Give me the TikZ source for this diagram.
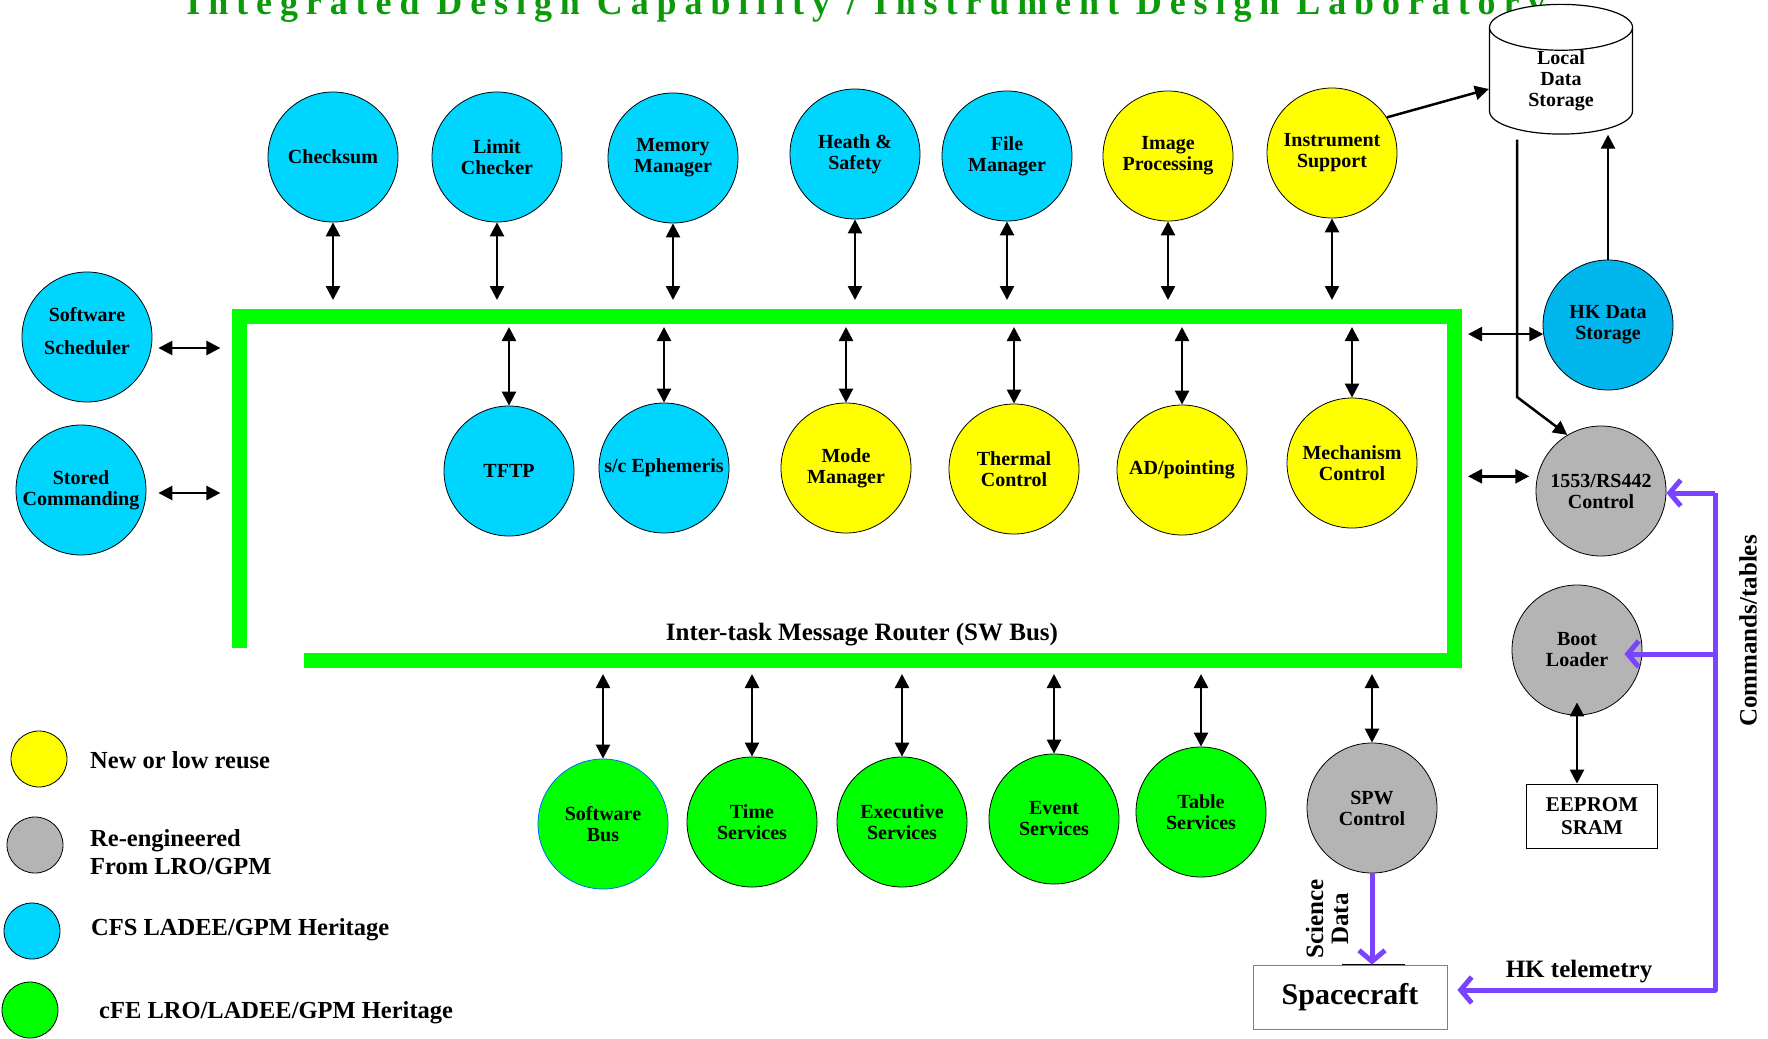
\documentclass[tikz,border=0pt]{standalone}
\usepackage{fontspec}
\setmainfont{Liberation Serif}
\usepackage{xcolor}
\usepackage{graphicx}
\usetikzlibrary{arrows.meta,shapes.geometric}

\definecolor{cfsblue}{HTML}{00D5FF}
\definecolor{hkblue}{HTML}{00B6EC}
\definecolor{newyellow}{HTML}{FFFF00}
\definecolor{cfegreen}{HTML}{00FF00}
\definecolor{regray}{HTML}{B4B4B4}
\definecolor{cmdpurple}{HTML}{7B42FF}
\definecolor{titlegreen}{HTML}{0A9A0A}

\begin{document}
\begin{tikzpicture}[x=1pt, y=-1pt,
    app/.style={draw, circle, minimum size=130pt, inner sep=0pt, align=center, line width=0.8pt, font=\fontsize{20}{21}\selectfont\bfseries},
    cfs/.style={app, fill=cfsblue},
    newapp/.style={app, fill=newyellow},
    cfe/.style={app, fill=cfegreen},
    reeng/.style={app, fill=regray},
    key/.style={draw, circle, minimum size=56pt, inner sep=0pt, line width=0.8pt},
    keytext/.style={anchor=west, align=left, inner sep=0pt, font=\fontsize{24.5}{28}\selectfont\bfseries},
    lbl/.style={inner sep=0pt, align=center, font=\fontsize{25}{25}\selectfont\bfseries},
    biarrow/.style={{Triangle[length=14pt,width=14pt]}-{Triangle[length=14pt,width=14pt]}, line width=2.5pt},
    onearrow/.style={-{Triangle[length=14pt,width=14pt]}, line width=2.5pt},
    cmd/.style={-{Straight Barb[length=11pt,width=26pt]}, line width=5pt, draw=cmdpurple, line join=round},
    bus/.style={draw=cfegreen, line width=15pt, line join=miter},
    box/.style={draw, rectangle, align=center, inner sep=0pt, line width=0.8pt}
  ]
    \useasboundingbox (0,0) rectangle (1768,1038);

    % title, cut at the top edge
    \node[anchor=base, inner sep=0pt, text=titlegreen] (title) at (866,15)
      {\resizebox{1359pt}{!}{\fontsize{26}{26}\selectfont\bfseries\addfontfeature{LetterSpace=22}Integrated Design Capability / Instrument Design Laboratory}};

    % software bus
    \draw[bus] (239,648) -- (239,316) -- (1454,316) -- (1454,660) -- (304,660);
    \node[lbl] (buslbl) at (862,635) {Inter-task Message Router (SW Bus)};
    \coordinate (bustop) at (0,300);
    \coordinate (businner) at (0,327);
    \coordinate (busbot) at (0,674);
    \coordinate (busright) at (1468,0);

    % applications above the bus
    \node[cfs] (chk) at (333,157) {Checksum};
    \node[cfs] (lim) at (497,157) {Limit\\Checker};
    \node[cfs] (mem) at (673,158) {Memory\\Manager};
    \node[cfs] (hs) at (855,154) {Heath \&\\Safety};
    \node[cfs] (fm) at (1007,156) {File\\Manager};
    \node[newapp] (ip) at (1168,156) {Image\\Processing};
    \node[newapp] (ins) at (1332,153) {Instrument\\Support};
    \draw[biarrow] (chk.south) -- (chk.south |- bustop);
    \draw[biarrow] (lim.south) -- (lim.south |- bustop);
    \draw[biarrow] (mem.south) -- (mem.south |- bustop);
    \draw[biarrow] (hs.south) -- (hs.south |- bustop);
    \draw[biarrow] (fm.south) -- (fm.south |- bustop);
    \draw[biarrow] (ip.south) -- (ip.south |- bustop);
    \draw[biarrow] (ins.south) -- (ins.south |- bustop);

    % applications inside the bus
    \node[cfs] (tftp) at (509,471) {TFTP};
    \node[cfs] (eph) at (664,468) {s/c Ephemeris};
    \node[newapp] (mode) at (846,468) {Mode\\Manager};
    \node[newapp] (therm) at (1014,469) {Thermal\\Control};
    \node[newapp] (adp) at (1182,470) {AD/pointing};
    \node[newapp] (mech) at (1352,463) {Mechanism\\Control};
    \draw[biarrow] (businner -| tftp.north) -- (tftp.north);
    \draw[biarrow] (businner -| eph.north) -- (eph.north);
    \draw[biarrow] (businner -| mode.north) -- (mode.north);
    \draw[biarrow] (businner -| therm.north) -- (therm.north);
    \draw[biarrow] (businner -| adp.north) -- (adp.north);
    \draw[biarrow] (businner -| mech.north) -- (mech.north);

    % left side
    \node[cfs] (sched) at (87,337) {Software\\[12pt]Scheduler\\[-8pt]};
    \node[cfs] (stcmd) at (81,490) {Stored\\Commanding};
    \draw[biarrow] ([xshift=6pt,yshift=-11pt]sched.east) -- +(62,0);
    \draw[biarrow] ([xshift=12pt,yshift=-3pt]stcmd.east) -- +(62,0);

    % cFE services below the bus
    \node[cfe, draw=blue!60!cyan] (sbus) at (603,824) {Software\\Bus};
    \node[cfe] (time) at (752,822) {Time\\Services};
    \node[cfe] (exec) at (902,822) {Executive\\Services};
    \node[cfe] (evs) at (1054,819) {Event\\Services};
    \node[cfe] (tbl) at (1201,812) {Table\\Services};
    \node[reeng] (spw) at (1372,808) {SPW\\Control};
    \draw[biarrow] (busbot -| sbus.north) -- (sbus.north);
    \draw[biarrow] (busbot -| time.north) -- (time.north);
    \draw[biarrow] (busbot -| exec.north) -- (exec.north);
    \draw[biarrow] (busbot -| evs.north) -- (evs.north);
    \draw[biarrow] (busbot -| tbl.north) -- (tbl.north);
    \draw[biarrow] (busbot -| spw.north) -- (spw.north);

    % storage and hardware side
    \node[cylinder, draw, fill=white, shape border rotate=90, aspect=0.7, minimum width=143pt, minimum height=85pt, inner sep=0pt, line width=1.2pt, align=center, font=\fontsize{20}{21}\selectfont\bfseries] (lds) at (1561,81) {Local\\Data\\Storage};
    \node[app, fill=hkblue] (hk) at (1608,325) {HK Data\\Storage};
    \node[reeng] (ctl) at (1601,491) {1553/RS442\\Control};
    \node[reeng] (boot) at (1577,650) {Boot\\Loader};
    \node[box, minimum width=131pt, minimum height=64pt, font=\fontsize{21}{23}\selectfont\bfseries] (eep) at (1592,816) {EEPROM\\SRAM};
    \node[box, draw=gray, minimum width=194pt, minimum height=64pt, font=\fontsize{30}{32}\selectfont\bfseries] (sc) at (1350,997) {Spacecraft};
    \draw[line width=1.2pt] ([xshift=-8pt]sc.north) -- ([xshift=55pt]sc.north);

    \draw[onearrow] (ins.33) -- ([yshift=-8pt]lds.west);
    \draw[onearrow] (hk.north) -- (hk.north |- lds.south);
    \draw[onearrow] ([xshift=-44pt,yshift=-5pt]lds.south) -- (1517,397) -- (ctl.121);
    \draw[biarrow] (busright |- hk.188) -- (hk.188);
    \draw[biarrow] (busright |- ctl.167) -- ([xshift=-8pt]ctl.167);
    \draw[biarrow] ([yshift=13pt]boot.south) -- (boot.south |- eep.north);

    % commands and telemetry
    \coordinate (cmdtop) at (1715,493);
    \coordinate (cmdmid) at (1715,654);
    \coordinate (cmdbot) at (1715,990);
    \draw[cmd] (cmdtop) -- (cmdtop -| ctl.east);
    \draw[cmd, shorten >=-18pt] (cmdmid) -- (cmdmid -| boot.east);
    \draw[cmd, shorten >=10pt] (cmdtop) -- (cmdbot) -- (cmdbot -| sc.east);
    \draw[cmd] (spw.south) -- (spw.south |- sc.north);
    \node[lbl, rotate=90] (cmdlbl) at (1748,631) {Commands/tables};
    \node[lbl] (hklbl) at (1579,972) {HK telemetry};
    \node[lbl, rotate=90] (scilbl) at (1327,919) {Science\\Data};

    % legend
    \node[key, fill=newyellow] (k1) at (39,759) {};
    \node[keytext] (k1t) at (90,760) {New or low reuse};
    \node[key, fill=regray] (k2) at (35,845) {};
    \node[keytext] (k2t) at (90,852) {Re-engineered\\From LRO/GPM};
    \node[key, fill=cfsblue] (k3) at (32,931) {};
    \node[keytext] (k3t) at (91,930) {CFS LADEE/GPM Heritage};
    \node[key, fill=cfegreen] (k4) at (30,1010) {};
    \node[keytext] (k4t) at (99,1013) {cFE LRO/LADEE/GPM Heritage};
  \end{tikzpicture}
\end{document}
